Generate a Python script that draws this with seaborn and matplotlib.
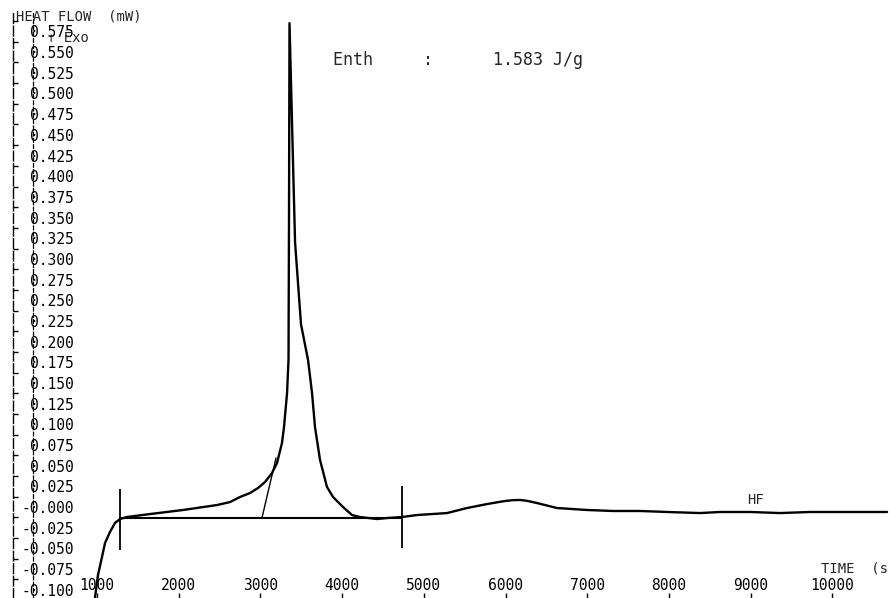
import numpy as np
import matplotlib
matplotlib.use("Agg")
import matplotlib.pyplot as plt
import seaborn as sns

# DSC trace
time_s = [963, 975, 1012, 1061, 1098, 1159, 1220, 1282, 1367, 1649, 2053, 2469,
          2628, 2750, 2873, 2971, 3056, 3142, 3203, 3264, 3289, 3326, 3344, 3350, 3356,
          3424, 3497, 3583, 3632, 3668, 3730, 3815, 3889, 4011, 4121, 4219,
          4427, 4550, 4733, 4917, 5284, 5529, 5774, 5994, 6090, 6180, 6263, 6386,
          6630, 6998, 7316, 7646, 7977, 8381, 8626, 8993, 9360, 9727, 10217, 10670]
heat_flow_mw = [-0.118, -0.110, -0.0822, -0.0605, -0.0435, -0.0302, -0.0193, -0.0145,
                -0.0121, -0.0085, -0.0036, 0.0024, 0.0060, 0.0121, 0.0169, 0.0230,
                0.0302, 0.0411, 0.0532, 0.0774, 0.0967, 0.1378, 0.1778, 0.350, 0.585,
                0.320, 0.2208, 0.1778, 0.1378, 0.0967, 0.0568, 0.0242, 0.0121,
                0.0, -0.0097, -0.0121, -0.0145, -0.0133, -0.0121, -0.0097, -0.0073,
                -0.0012, 0.0036, 0.0073, 0.0083, 0.0085, 0.0075, 0.0048, -0.0012,
                -0.0036, -0.0048, -0.0048, -0.0060, -0.0073, -0.0060, -0.0060,
                -0.0073, -0.0060, -0.0060, -0.0060]

# integration baseline, onset tangent and limit markers
baseline_t = [1282, 4733]
baseline_mw = [-0.0127, -0.0127]
tangent_t = [3020, 3191]
tangent_mw = [-0.0127, 0.0592]
marker_t = [1282, 4733]
marker_lo = [-0.052, -0.0496]
marker_hi = [0.0218, 0.0254]

x_ticks = list(range(1000, 10001, 1000))
y_ticks = [round(0.575 - 0.025 * i, 3) for i in range(28)]
y_labels = ["-0.000" if v == 0 else f"{v:.3f}" for v in y_ticks]
enth_text = "Enth     :      1.583 J/g"

sns.set_theme(style="white")
plt.rcParams["font.family"] = ["DejaVu Sans Mono", "DejaVu Sans"]

W, H = 890, 598
fig = plt.figure(figsize=(W / 100, H / 100), dpi=100)
ax = fig.add_axes([13 / W, 0, 877 / W, 586 / H])

# second dashed vertical line running through the y labels
ax.spines["right"].set_position(("axes", 20 / 877))
ax.spines["right"].set_linestyle((0, (3, 2)))
ax.spines["right"].set_linewidth(0.9)
ax.spines["right"].set_color("black")
ax.spines["left"].set_linestyle((0, (7, 2)))
ax.spines["left"].set_linewidth(1.0)
ax.spines["left"].set_color("black")
ax.spines["top"].set_visible(False)
ax.spines["bottom"].set_visible(False)

sns.lineplot(x=time_s, y=heat_flow_mw, sort=False, estimator=None,
             color="black", linewidth=1.7, ax=ax)
ax.plot(baseline_t, baseline_mw, color="black", linewidth=1.5)
ax.plot(tangent_t, tangent_mw, color="black", linewidth=1.0)
ax.vlines(marker_t, marker_lo, marker_hi, color="black", linewidth=1.3)

ax.set_xlim(-28.2, 10706)
ax.set_ylim(-0.110, 0.5985)

ax.yaxis.set_ticks_position("left")
ax.xaxis.set_ticks_position("bottom")
ax.set_yticks(y_ticks, y_labels)
ax.set_yticks([v + 0.0125 for v in y_ticks], minor=True)
ax.set_xticks(x_ticks, [str(v) for v in x_ticks])
ax.tick_params(axis="y", which="major", length=0, pad=-61 / 1.389, labelsize=10.5,
               labelcolor="black")
ax.tick_params(axis="y", which="minor", direction="in", length=3.6, width=1.0,
               color="black", left=True)
ax.tick_params(axis="x", which="major", direction="in", length=3.6, width=1.0,
               color="black", pad=-5 / 1.389, labelsize=10.5, labelcolor="black")
plt.setp(ax.get_xticklabels(), va="bottom")
ax.set_xlabel("")
ax.set_ylabel("")
ax.grid(False)

fig.text(16 / W, 1 - 16 / H, "HEAT FLOW  (mW)", fontsize=10, ha="left", va="center")
fig.text(47 / W, 1 - 38 / H, "↑ Exo", fontsize=10, ha="left", va="center")
fig.text(333 / W, 1 - 60 / H, enth_text, fontsize=12, ha="left", va="center")
fig.text(747 / W, 1 - 500 / H, "HF", fontsize=10, ha="left", va="center")
fig.text(821 / W, 1 - 568 / H, "TIME  (s)", fontsize=10, ha="left", va="center")

fig.savefig("out.png", dpi=100, facecolor="white")
